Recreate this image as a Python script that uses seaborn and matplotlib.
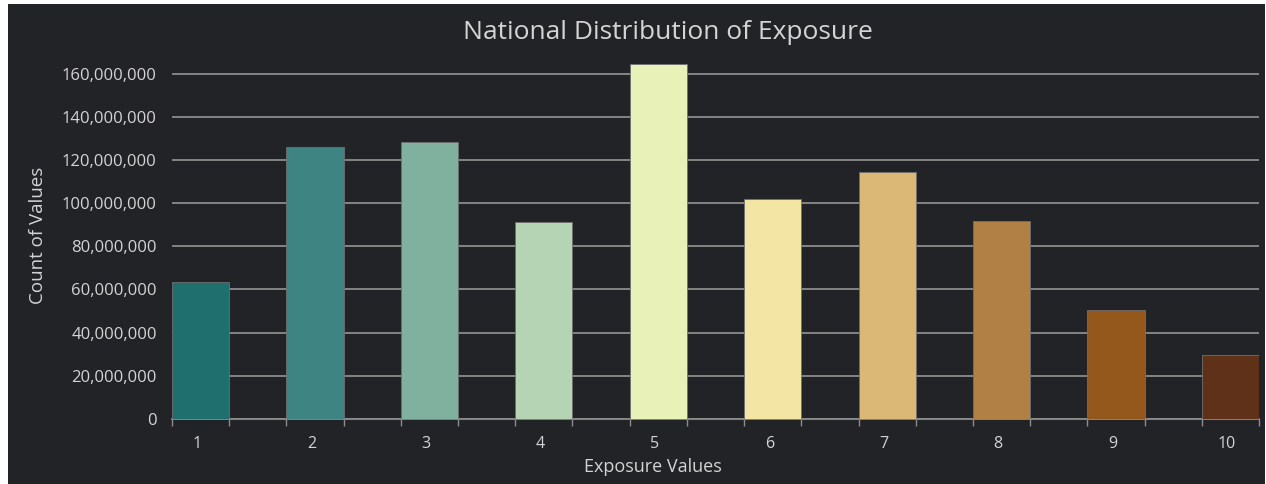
import numpy as np
import pandas as pd
import matplotlib.pyplot as plt
import seaborn as sns
from matplotlib.patches import Rectangle
from matplotlib.ticker import FuncFormatter, FixedLocator

# values
exposure = ['1', '2', '3', '4', '5', '6', '7', '8', '9', '10']
counts = [63300000, 125900000, 128500000, 91400000, 164600000,
          101900000, 114300000, 91900000, 50700000, 29500000]
bar_colors = ['#1f6f6e', '#3d8482', '#80b09e', '#b5d4b3', '#e8f1b8',
              '#f3e6a4', '#dcb877', '#b08044', '#94581c', '#5f3118']

BG = '#222327'
TXT = '#d4d4d4'
GRID = '#8c8c8c'

sns.set_theme(style='dark')
plt.rcParams['font.family'] = ['Open Sans', 'DejaVu Sans']

fig = plt.figure(figsize=(12.66, 4.84), dpi=100, facecolor='white')
# dark panel with thin white border at left/top
fig.patches.append(Rectangle((8 / 1266, 0), 1257 / 1266, 480 / 484,
                             transform=fig.transFigure, facecolor=BG,
                             edgecolor='none', zorder=-10))

ax = fig.add_axes([172 / 1266, 1 - 419 / 484, 1087 / 1266, 367 / 484])
ax.set_facecolor(BG)

df = pd.DataFrame({'exposure': exposure, 'count': counts})
sns.barplot(data=df, x='exposure', y='count', hue='exposure',
            palette=bar_colors, saturation=1, width=0.5, legend=False, ax=ax,
            edgecolor='#6f6f6f', linewidth=0.6, zorder=3)

ax.set_xlim(-0.25, 9.25)
ax.set_ylim(0, 170000000)
ax.set_yticks(np.arange(0, 160000001, 20000000))
ax.yaxis.set_major_formatter(FuncFormatter(lambda v, p: f'{int(v):,}'))

ax.grid(axis='y', color=GRID, linewidth=1.3, zorder=0)
ax.grid(axis='x', visible=False)

# bar edge tick marks, labels centred under bars
ax.xaxis.set_major_locator(FixedLocator(np.arange(-0.25, 9.3, 0.5)))
ax.set_xticklabels([''] * 20)
ax.set_xticks(np.arange(10) - 0.03, labels=exposure, minor=True)
ax.tick_params(axis='x', which='major', length=5, width=1, color=GRID,
               direction='out', bottom=True)
ax.tick_params(axis='x', which='minor', length=0, pad=12,
               labelsize=11.5, labelcolor=TXT)
ax.tick_params(axis='y', length=0, pad=11, labelsize=12, labelcolor=TXT)

for s in ['top', 'right', 'left']:
    ax.spines[s].set_visible(False)
ax.spines['bottom'].set_color(GRID)
ax.spines['bottom'].set_linewidth(1.3)

fig.text(668 / 1266, 1 - 33 / 484, 'National Distribution of Exposure',
         color=TXT, fontsize=19, ha='center', va='center')
ax.set_xlabel('')
fig.text(653 / 1266, 1 - 467 / 484, 'Exposure Values',
         color=TXT, fontsize=13, ha='center', va='center')
ax.set_ylabel('Count of Values', color=TXT, fontsize=13.5, labelpad=11)

fig.savefig('out.png', dpi=100, facecolor=fig.get_facecolor())
